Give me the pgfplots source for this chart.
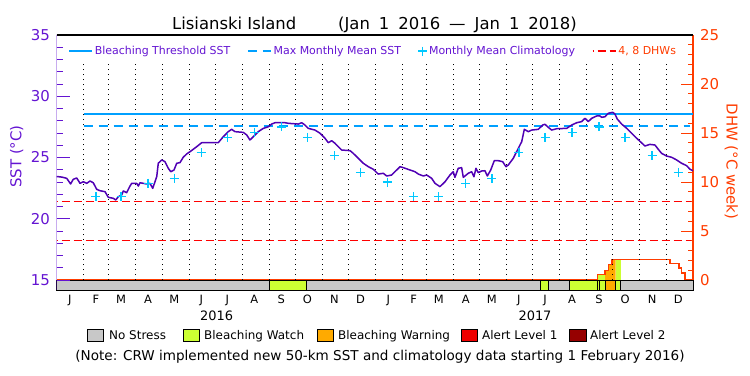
\documentclass[border=0pt]{standalone}
\usepackage{pgfplots}
\pgfplotsset{compat=1.18}
\usepackage{fontspec}
\setmainfont{DejaVu Sans}
\definecolor{sstpurple}{RGB}{100,20,210}
\definecolor{sstline}{RGB}{80,0,180}
\definecolor{thrblue}{RGB}{0,160,255}
\definecolor{climcyan}{RGB}{0,200,255}
\definecolor{dhwred}{RGB}{255,60,0}
\definecolor{dashred}{RGB}{255,0,0}
\definecolor{nostress}{RGB}{200,200,200}
\definecolor{watch}{RGB}{204,255,51}
\definecolor{warning}{RGB}{255,170,0}
\definecolor{alertone}{RGB}{238,0,0}
\definecolor{alerttwo}{RGB}{150,0,0}

\pgfplotstableread{
day sst
0 23.45
6 23.40
11.5 23.30
16 22.84
19 23.22
23 23.33
26.8 22.89
30.6 23.02
34.5 22.89
38.3 23.08
42 22.94
46 22.40
49.7 22.29
55.5 22.21
59.3 21.75
65 21.67
67.8 21.53
70.8 21.80
74.7 21.94
76.5 22.27
80.4 22.13
84.2 22.67
86.2 22.89
91.9 22.89
93.7 22.67
95.7 22.94
99.5 22.89
103.4 22.84
107.2 22.89
110.3 22.48
112.9 23.02
114.9 23.43
116.7 24.53
120.6 24.80
124.4 24.66
128.2 24.12
131 23.84
134.8 23.98
137.9 24.53
141.6 24.58
145.4 25.02
149.3 25.29
153.1 25.47
160.8 25.88
166.6 26.21
174.2 26.21
181.8 26.21
185.6 26.21
191.4 26.70
197.1 27.11
201 27.30
204.8 27.11
214.4 27.05
218.3 26.84
222 26.43
225.9 26.70
231.6 27.11
237.4 27.38
243.1 27.51
247 27.73
250.8 27.84
262.3 27.84
266.1 27.79
277.6 27.73
281.5 27.84
285.2 27.65
289 27.38
296.7 27.24
302.5 26.98
308.2 26.57
312 26.21
315.9 26.37
319.7 26.16
323.5 25.88
327.4 25.61
337 25.56
340.7 25.34
346.5 24.93
352.2 24.53
358 24.25
363.7 24.04
369.4 23.65
375.2 23.71
379.1 23.49
384.8 23.57
388.6 23.84
394.4 24.25
398.2 24.17
405.9 23.98
411.6 23.84
415.4 23.65
421.2 23.49
425 23.57
430.8 23.30
434.6 22.89
440.3 22.62
446.1 23.02
451.8 23.57
455.6 23.84
457.5 23.38
461.3 24.12
465.2 24.17
467.1 23.38
472.8 23.71
476.7 23.84
479.3 23.43
481.7 24.12
484.3 23.76
488.2 23.90
492 23.92
494.7 23.49
498.6 23.98
502.7 24.74
507.3 24.74
512.3 24.66
516.1 24.25
518.8 24.39
524.5 24.93
530.3 25.75
534.2 26.29
537.2 27.30
541.8 27.11
545.7 27.24
553.3 27.30
558.3 27.65
560.9 27.71
564.8 27.46
568.6 27.24
574.4 27.35
585.9 27.38
591.6 27.65
597.4 27.84
603.1 27.93
606.9 28.20
610.7 27.93
614.6 28.20
620.3 28.39
624.1 28.39
626.1 28.28
629.9 28.33
633.7 28.61
638.7 28.69
641.3 28.55
644 28.14
649 27.73
654.8 27.38
660.5 26.98
666.3 26.57
675.8 25.94
681.5 26.07
687.3 26.02
691.1 25.67
694.9 25.34
700.7 25.12
706.4 25.02
712.2 24.80
717.9 24.53
723.7 24.33
727.5 24.04
731 23.92
}\sstdata

\pgfplotstableread{
day clim
45 21.8
74 21.8
105 22.9
135 23.3
166 25.4
196 26.65
227 27.06
258 27.5
288 26.65
319 25.15
349 23.8
380 23.0
410 21.8
439 21.8
470 22.9
500 23.3
531 25.4
561 26.65
592 27.06
623 27.5
653 26.65
684 25.15
714 23.8
}\climdata

\pgfplotstableread{
day dhw
0 0
621 0.56
630 1.0
634 1.58
638 2.09
704.5 1.65
715 1.24
718 0.73
721.7 0
731 0
}\dhwdata

\begin{document}
\begin{tikzpicture}[x=1bp,y=1bp]
\path[use as bounding box] (-56.7,-85) rectangle (693.3,290);

% ---------- DHW axis (right) ----------
\begin{axis}[at={(0,0)}, anchor=south west, scale only axis,
  width=636.3bp, height=255bp,
  xmin=0, xmax=731, ymin=-1.02, ymax=25, clip=false,
  axis line style={draw=none}, xtick=\empty,
  ytick={0,5,10,15,20,25}, minor tick num=4,
  ytick pos=right, yticklabel pos=right, tick align=inside,
  y tick style={dhwred, line width=0.9bp},
  major tick length=11.7bp, minor tick length=5.5bp,
  yticklabel style={text=dhwred, font=\fontsize{15}{15}\selectfont, anchor=west, inner sep=0pt, xshift=7bp},
  /pgf/number format/assume math mode=true]
  % DHW fills by stress level
  \addplot[fill=watch, draw=none] coordinates {(621,0) (621,0.56) (630,0.56) (630,0)} -- cycle;
  \addplot[fill=warning, draw=none] coordinates {(630,0) (630,1.0) (634,1.0) (634,1.58) (638,1.58) (638,2.09) (642.2,2.09) (642.2,0)} -- cycle;
  \addplot[fill=watch, draw=none] coordinates {(642.2,0) (642.2,2.09) (647.9,2.09) (647.9,0)} -- cycle;
  % DHW line
  \addplot[draw=dhwred, color=dhwred, line width=1.3bp, const plot mark left, mark=none] table[x=day, y=dhw] {\dhwdata};
  % stress bar
  \addplot[fill=nostress, draw=black, line width=1bp] coordinates {(0,-1.02) (0,0) (731,0) (731,-1.02)} -- cycle;
  \addplot[fill=watch, draw=black, line width=1bp] coordinates {(244.2,-1.02) (244.2,0) (286.4,0) (286.4,-1.02)} -- cycle;
  \addplot[fill=watch, draw=black, line width=1bp] coordinates {(556.3,-1.02) (556.3,0) (564.7,0) (564.7,-1.02)} -- cycle;
  \addplot[fill=watch, draw=black, line width=1bp] coordinates {(588.9,-1.02) (588.9,0) (621,0) (621,-1.02)} -- cycle;
  \addplot[fill=watch, draw=black, line width=1bp] coordinates {(621,-1.02) (621,0) (623.3,0) (623.3,-1.02)} -- cycle;
  \addplot[fill=watch, draw=black, line width=1bp] coordinates {(623.3,-1.02) (623.3,0) (629.9,0) (629.9,-1.02)} -- cycle;
  \addplot[fill=warning, draw=black, line width=1bp] coordinates {(629.9,-1.02) (629.9,0) (642.2,0) (642.2,-1.02)} -- cycle;
  \addplot[fill=watch, draw=black, line width=1bp] coordinates {(642.2,-1.02) (642.2,0) (647.9,0) (647.9,-1.02)} -- cycle;
  \draw[dhwred, line width=1.2bp] (rel axis cs:1,0.038) -- (rel axis cs:1,1);
\end{axis}

% ---------- SST axis (left) ----------
\begin{axis}[at={(0,0)}, anchor=south west, scale only axis,
  width=636.3bp, height=255bp,
  xmin=0, xmax=731, ymin=14.184, ymax=35,
  axis line style={draw=none},
  xtick={15,45,74,105,135,166,196,227,258,288,319,349,381,410,439,470,500,531,561,592,623,653,684,714},
  xticklabels={J,F,M,A,M,J,J,A,S,O,N,D,J,F,M,A,M,J,J,A,S,O,N,D},
  x tick style={draw=none},
  xticklabel style={font=\fontsize{11.5}{11.5}\selectfont, anchor=base, inner sep=0pt, yshift=-13.2bp},
  ytick={15,20,25,30,35}, minor tick num=4,
  ytick pos=left, tick align=inside,
  y tick style={sstpurple, line width=1bp},
  major tick length=13.3bp, minor tick length=6.6bp,
  yticklabel style={text=sstpurple, font=\fontsize{15}{15}\selectfont, anchor=east, inner sep=0pt, xshift=-6.7bp},
  /pgf/number format/assume math mode=true,
  legend style={at={(0.4975,0.937)}, anchor=center, draw=none, fill=none,
    legend columns=4, font=\fontsize{11}{11}\selectfont, text=sstpurple,
    /tikz/every even column/.append style={column sep=15bp}},
  legend image code/.code={\draw[mark repeat=2,mark phase=2,#1] plot coordinates {(0bp,0bp) (11.5bp,0bp) (23bp,0bp)};}]
  % month boundaries
  \pgfplotsinvokeforeach{31,60,91,121,152,182,213,244,274,305,335,366,397,425,456,486,517,547,578,609,639,670,700}{
    \addplot[black, line width=0.9bp, dash pattern=on 0.9bp off 4.1bp, forget plot] coordinates {(#1,15) (#1,32.7)};
  }
  \addplot[thrblue, line width=1.3bp] coordinates {(31,28.55) (731,28.55)};
  \addlegendentry{Bleaching Threshold SST}
  \addplot[thrblue, line width=1.3bp, dash pattern=on 9bp off 6bp] coordinates {(31,27.57) (728,27.57)};
  \addlegendentry{Max Monthly Mean SST}
  \addplot[climcyan, only marks, mark=+, mark size=4.5bp, line width=1.3bp] table[x=day, y=clim] {\climdata};
  \addlegendentry{Monthly Mean Climatology}
  \addplot[dashred, line width=1.3bp, dash pattern=on 8bp off 4bp, dash phase=-5bp] coordinates {(0,21.4) (729,21.4)};
  \addlegendentry{\textcolor{dhwred}{4, 8 DHWs}}
  \addplot[dashred, line width=1.3bp, dash pattern=on 8bp off 4bp, dash phase=-5bp, forget plot] coordinates {(0,18.2) (729,18.2)};
  \addplot[sstline, line width=1.5bp, line join=round, mark=none, forget plot] table[x=day, y=sst] {\sstdata};
  \draw[sstpurple, line width=1.5bp] (rel axis cs:0,0) -- (rel axis cs:0,1);
  \draw[black, line width=1.2bp] (rel axis cs:0,1) -- (rel axis cs:1,1);
\end{axis}

% ---------- outer texts ----------
\node[anchor=base west, inner sep=0pt, font=\fontsize{16.5}{16.5}\selectfont] at (115.3,261) {Lisianski Island};
\node[anchor=base west, inner sep=0pt, font=\fontsize{16.5}{16.5}\selectfont] at (281.3,261) {(Jan\hspace{9bp}1\hspace{9bp}2016\hspace{9bp}—\hspace{9bp}Jan\hspace{9bp}1\hspace{9bp}2018)};
\node[rotate=90, text=sstpurple, font=\fontsize{15}{15}\selectfont] at (-40,133.5) {SST (°C)};
\node[rotate=-90, text=dhwred, font=\fontsize{15}{15}\selectfont] at (674.5,128.5) {DHW (°C week)};
\node[anchor=base, inner sep=0pt, font=\fontsize{13}{13}\selectfont] at (160,-30) {2016};
\node[anchor=base, inner sep=0pt, font=\fontsize{13}{13}\selectfont] at (478.3,-30) {2017};

\draw[fill=nostress, line width=0.8bp] (30.3,-51) rectangle (46.3,-39);
\node[anchor=base west, inner sep=0pt, font=\fontsize{12}{12}\selectfont] at (52.3,-49.4) {No Stress};
\draw[fill=watch, line width=0.8bp] (126.3,-51) rectangle (142.3,-39);
\node[anchor=base west, inner sep=0pt, font=\fontsize{12}{12}\selectfont] at (147.3,-49.4) {Bleaching Watch};
\draw[fill=warning, line width=0.8bp] (260.3,-51) rectangle (276.3,-39);
\node[anchor=base west, inner sep=0pt, font=\fontsize{12}{12}\selectfont] at (281.3,-49.4) {Bleaching Warning};
\draw[fill=alertone, line width=0.8bp] (404.3,-51) rectangle (420.3,-39);
\node[anchor=base west, inner sep=0pt, font=\fontsize{12}{12}\selectfont] at (425.3,-49.4) {Alert Level 1};
\draw[fill=alerttwo, line width=0.8bp] (512.3,-51) rectangle (529.3,-39);
\node[anchor=base west, inner sep=0pt, font=\fontsize{12}{12}\selectfont] at (533.3,-49.4) {Alert Level 2};

\node[anchor=base, inner sep=0pt, font=\fontsize{13.6}{13.6}\selectfont] at (323.3,-70) {(Note: CRW implemented new 50-km SST and climatology data starting 1 February 2016)};
\end{tikzpicture}
\end{document}
